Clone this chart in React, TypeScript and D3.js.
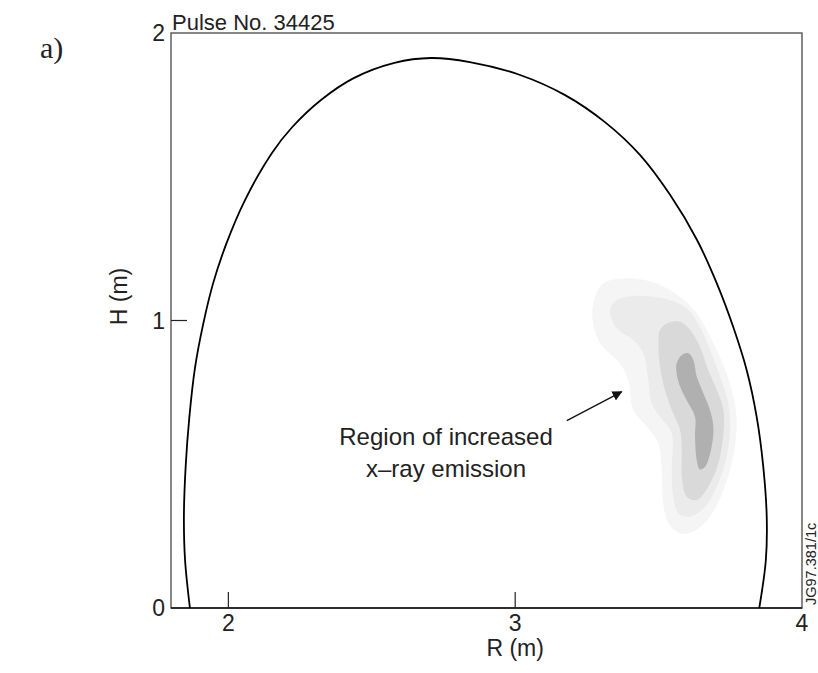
import * as d3 from 'd3'

// plasma boundary (R, H) in metres
const boundary: [number, number][] = [
  [1.866, 0], [1.849, 0.167], [1.845, 0.317], [1.851, 0.49], [1.864, 0.664],
  [1.884, 0.838], [1.913, 0.991], [1.947, 1.13], [1.994, 1.27], [2.058, 1.419],
  [2.152, 1.583], [2.223, 1.673], [2.323, 1.767], [2.437, 1.843], [2.579, 1.896],
  [2.706, 1.913], [2.842, 1.899], [3.017, 1.854], [3.174, 1.784], [3.313, 1.69],
  [3.435, 1.576], [3.54, 1.437], [3.634, 1.28], [3.703, 1.129],
  [3.76, 0.978], [3.807, 0.828], [3.842, 0.665], [3.865, 0.491], [3.877, 0.318],
  [3.874, 0.167], [3.851, 0],
]

// x-ray emission contours, outer to inner
const level1: [number, number][] = [
  [3.272, 1.06], [3.307, 1.129], [3.4, 1.147], [3.493, 1.129], [3.575, 1.083],
  [3.633, 1.025], [3.691, 0.921], [3.737, 0.816], [3.766, 0.712], [3.772, 0.631],
  [3.76, 0.526], [3.726, 0.41], [3.679, 0.318], [3.621, 0.265], [3.575, 0.26],
  [3.534, 0.295], [3.516, 0.364], [3.511, 0.48], [3.499, 0.573], [3.459, 0.631],
  [3.412, 0.689], [3.394, 0.793], [3.365, 0.851], [3.296, 0.921], [3.272, 0.99],
]
const level2: [number, number][] = [
  [3.331, 1.037], [3.354, 1.071], [3.412, 1.085], [3.516, 1.077], [3.598, 1.042],
  [3.644, 0.978], [3.679, 0.897], [3.714, 0.805], [3.743, 0.712], [3.749, 0.619],
  [3.737, 0.526], [3.708, 0.434], [3.662, 0.352], [3.61, 0.318], [3.569, 0.329],
  [3.551, 0.387], [3.546, 0.48], [3.546, 0.608], [3.505, 0.665], [3.476, 0.712],
  [3.464, 0.793], [3.447, 0.886], [3.412, 0.932], [3.354, 0.973],
]
const level3: [number, number][] = [
  [3.505, 0.967], [3.534, 0.992], [3.575, 0.996], [3.61, 0.967], [3.644, 0.909],
  [3.673, 0.828], [3.703, 0.758], [3.726, 0.689], [3.726, 0.608], [3.708, 0.503],
  [3.673, 0.422], [3.633, 0.376], [3.598, 0.387], [3.581, 0.457], [3.581, 0.55],
  [3.575, 0.619], [3.546, 0.689], [3.522, 0.758], [3.505, 0.839], [3.499, 0.921],
]
const level4: [number, number][] = [
  [3.563, 0.851], [3.581, 0.88], [3.604, 0.886], [3.621, 0.863], [3.633, 0.805],
  [3.656, 0.747], [3.679, 0.689], [3.691, 0.631], [3.685, 0.561], [3.662, 0.491],
  [3.644, 0.482], [3.633, 0.515], [3.627, 0.596], [3.627, 0.665], [3.598, 0.723],
  [3.575, 0.77], [3.563, 0.816],
]
const levels = [level1, level2, level3, level4]
const levelFills = ['#f5f5f5', '#ebebeb', '#d9d9d9', '#b0b0b0']

const xTicks = [2, 3]
const xLabels = [2, 3, 4]
const yTicks = [1]
const yLabels = [0, 1, 2]

// arrow from label to the emission region
const arrowFrom: [number, number] = [3.18, 0.652]
const arrowTo: [number, number] = [3.371, 0.752]

const W = 818
const H = 673
const sans = '"Liberation Sans", Arial, Helvetica, sans-serif'

export default function App() {
  const x = d3.scaleLinear().domain([1.8, 4.0]).range([171, 802])
  const y = d3.scaleLinear().domain([0, 2]).range([608, 33])

  const edge = d3
    .line<[number, number]>()
    .x(d => x(d[0]))
    .y(d => y(d[1]))
    .curve(d3.curveCatmullRom.alpha(0.5))
  const blob = d3
    .line<[number, number]>()
    .x(d => x(d[0]))
    .y(d => y(d[1]))
    .curve(d3.curveCatmullRomClosed.alpha(0.5))

  const [x0, x1] = x.range()
  const [y0, y1] = y.range()

  return (
    <svg
      width={W}
      height={H}
      style={{ position: 'absolute', left: 0, top: 0, background: '#fff' }}
      fontFamily={sans}
    >
      <defs>
        <marker
          id="ah"
          viewBox="0 0 10 10"
          refX={9}
          refY={5}
          markerWidth={10}
          markerHeight={10}
          markerUnits="userSpaceOnUse"
          orient="auto"
        >
          <path d="M0,0L10,5L0,10z" fill="#111" />
        </marker>
      </defs>

      {/* emission contours */}
      {levels.map((lv, i) => (
        <path key={i} d={blob(lv) ?? ''} fill={levelFills[i]} />
      ))}

      {/* frame */}
      <rect
        x={x0}
        y={y1}
        width={x1 - x0}
        height={y0 - y1}
        fill="none"
        stroke="#555"
        strokeWidth={1.4}
      />
      <line x1={x0} x2={x1} y1={y0} y2={y0} stroke="#111" strokeWidth={1.4} />

      {/* ticks */}
      {xTicks.map(t => (
        <line key={t} x1={x(t)} x2={x(t)} y1={y0} y2={y0 - 16} stroke="#222" strokeWidth={1.2} />
      ))}
      {yTicks.map(t => (
        <line key={t} x1={x0} x2={x0 + 16} y1={y(t)} y2={y(t)} stroke="#222" strokeWidth={1.2} />
      ))}
      {xLabels.map(t => (
        <text key={t} x={x(t)} y={y0 + 23} textAnchor="middle" fontSize={23} fill="#222">
          {t}
        </text>
      ))}
      {yLabels.map(t => (
        <text
          key={t}
          x={x0 - 6}
          y={y(t)}
          dy="0.36em"
          textAnchor="end"
          fontSize={23}
          fill="#222"
        >
          {t}
        </text>
      ))}

      {/* plasma boundary */}
      <path d={edge(boundary) ?? ''} fill="none" stroke="#000" strokeWidth={1.8} />

      {/* annotation */}
      <line
        x1={x(arrowFrom[0])}
        y1={y(arrowFrom[1])}
        x2={x(arrowTo[0])}
        y2={y(arrowTo[1])}
        stroke="#111"
        strokeWidth={1.3}
        markerEnd="url(#ah)"
      />
      <text x={446} y={445} textAnchor="middle" fontSize={24} fill="#222">
        Region of increased
      </text>
      <text x={446} y={477} textAnchor="middle" fontSize={24} fill="#222">
        x–ray emission
      </text>

      {/* titles */}
      <text x={x0 + 1} y={30} fontSize={22} fill="#222">
        Pulse No. 34425
      </text>
      <text x={x(3)} y={656} textAnchor="middle" fontSize={23} fill="#222">
        R (m)
      </text>
      <text
        transform={`translate(127,${(y0 + y1) / 2 - 24}) rotate(-90)`}
        textAnchor="middle"
        fontSize={23}
        fill="#222"
      >
        H (m)
      </text>
      <text x={40} y={58} fontSize={30} fontFamily='"Liberation Serif", "Times New Roman", serif' fill="#222">
        a)
      </text>
      <text
        transform="translate(816,605) rotate(-90)"
        fontSize={14.5}
        fill="#222"
      >
        JG97.381/1c
      </text>
    </svg>
  )
}
